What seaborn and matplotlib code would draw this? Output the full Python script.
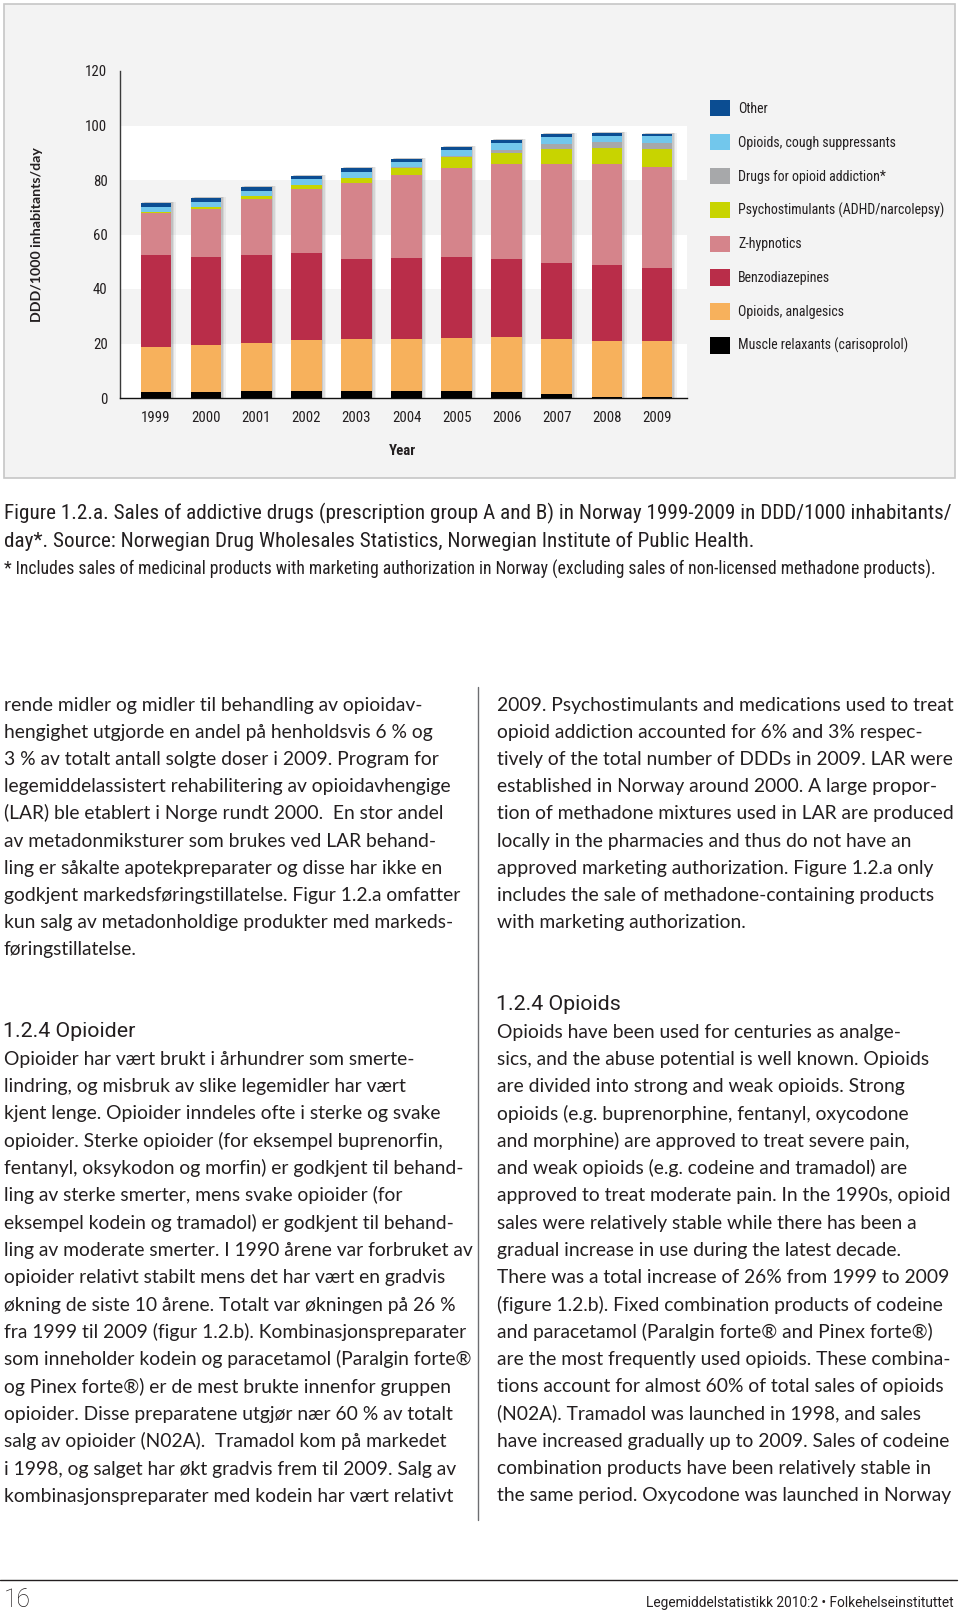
import numpy as np
import matplotlib
matplotlib.use('Agg')
import matplotlib.pyplot as plt
import matplotlib.font_manager as fm
import seaborn as sns
from matplotlib.patches import Patch, Rectangle
from matplotlib.lines import Line2D

# ---- chart data (DDD/1000 inhabitants/day) ----
years = ['1999', '2000', '2001', '2002', '2003', '2004', '2005', '2006', '2007', '2008', '2009']
muscle_relaxants = [2.2, 2.3, 2.5, 2.5, 2.5, 2.4, 2.4, 2.2, 1.6, 0.5, 0.2]
opioids_analgesics = [16.6, 17.0, 17.6, 18.9, 19.2, 19.3, 19.7, 20.1, 20.1, 20.6, 20.7]
benzodiazepines = [33.7, 32.4, 32.2, 31.9, 29.3, 29.5, 29.7, 28.7, 28.0, 27.7, 26.8]
z_hypnotics = [15.4, 17.7, 20.9, 23.5, 27.9, 30.6, 32.7, 34.7, 36.2, 36.9, 37.0]
psychostimulants = [0.3, 0.6, 1.0, 1.2, 1.9, 2.7, 3.9, 4.3, 5.4, 5.9, 6.5]
opioid_addiction = [0.0, 0.2, 0.1, 0.1, 0.1, 0.1, 0.3, 1.1, 2.0, 2.4, 2.4]
opioids_cough = [1.8, 1.8, 1.8, 2.1, 2.2, 1.9, 2.2, 2.3, 2.3, 2.1, 2.4]
other = [1.5, 1.4, 1.4, 1.3, 1.3, 1.3, 1.2, 1.2, 1.2, 1.1, 1.0]

layer_names = ['Muscle relaxants (carisoprolol)', 'Opioids, analgesics', 'Benzodiazepines',
               'Z-hypnotics', 'Psychostimulants (ADHD/narcolepsy)', 'Drugs for opioid addiction*',
               'Opioids, cough suppressants', 'Other']
layer_colors = ['#000000', '#f7b15c', '#b92d49', '#d5848b', '#c8d400', '#a7a8aa', '#72c7ec', '#0b4d92']
y_ticks = [0, 20, 40, 60, 80, 100, 120]

# ---- page text ----
caption_lines = [
    'Figure 1.2.a. Sales of addictive drugs (prescription group A and B) in Norway 1999-2009 in DDD/1000 inhabitants/',
    'day*. Source: Norwegian Drug Wholesales Statistics, Norwegian Institute of Public Health.',
]
footnote = ('* Includes sales of medicinal products with marketing authorization in Norway '
            '(excluding sales of non-licensed methadone products).')

left_para = [
    'rende midler og midler til behandling av opioidav-',
    'hengighet utgjorde en andel på henholdsvis 6 % og',
    '3 % av totalt antall solgte doser i 2009. Program for',
    'legemiddelassistert rehabilitering av opioidavhengige',
    '(LAR) ble etablert i Norge rundt 2000.  En stor andel',
    'av metadonmiksturer som brukes ved LAR behand-',
    'ling er såkalte apotekpreparater og disse har ikke en',
    'godkjent markedsføringstillatelse. Figur 1.2.a omfatter',
    'kun salg av metadonholdige produkter med markeds-',
    'føringstillatelse.',
]
left_heading = '1.2.4 Opioider'
left_body = [
    'Opioider har vært brukt i århundrer som smerte-',
    'lindring, og misbruk av slike legemidler har vært',
    'kjent lenge. Opioider inndeles ofte i sterke og svake',
    'opioider. Sterke opioider (for eksempel buprenorfin,',
    'fentanyl, oksykodon og morfin) er godkjent til behand-',
    'ling av sterke smerter, mens svake opioider (for',
    'eksempel kodein og tramadol) er godkjent til behand-',
    'ling av moderate smerter. I 1990 årene var forbruket av',
    'opioider relativt stabilt mens det har vært en gradvis',
    'økning de siste 10 årene. Totalt var økningen på 26 %',
    'fra 1999 til 2009 (figur 1.2.b). Kombinasjonspreparater',
    'som inneholder kodein og paracetamol (Paralgin forte®',
    'og Pinex forte®) er de mest brukte innenfor gruppen',
    'opioider. Disse preparatene utgjør nær 60 % av totalt',
    'salg av opioider (N02A).  Tramadol kom på markedet',
    'i 1998, og salget har økt gradvis frem til 2009. Salg av',
    'kombinasjonspreparater med kodein har vært relativt',
]
right_para = [
    '2009. Psychostimulants and medications used to treat',
    'opioid addiction accounted for 6% and 3% respec-',
    'tively of the total number of DDDs in 2009. LAR were',
    'established in Norway around 2000. A large propor-',
    'tion of methadone mixtures used in LAR are produced',
    'locally in the pharmacies and thus do not have an',
    'approved marketing authorization. Figure 1.2.a only',
    'includes the sale of methadone-containing products',
    'with marketing authorization.',
]
right_heading = '1.2.4 Opioids'
right_body = [
    'Opioids have been used for centuries as analge-',
    'sics, and the abuse potential is well known. Opioids',
    'are divided into strong and weak opioids. Strong',
    'opioids (e.g. buprenorphine, fentanyl, oxycodone',
    'and morphine) are approved to treat severe pain,',
    'and weak opioids (e.g. codeine and tramadol) are',
    'approved to treat moderate pain. In the 1990s, opioid',
    'sales were relatively stable while there has been a',
    'gradual increase in use during the latest decade.',
    'There was a total increase of 26% from 1999 to 2009',
    '(figure 1.2.b). Fixed combination products of codeine',
    'and paracetamol (Paralgin forte® and Pinex forte®)',
    'are the most frequently used opioids. These combina-',
    'tions account for almost 60% of total sales of opioids',
    '(N02A). Tramadol was launched in 1998, and sales',
    'have increased gradually up to 2009. Sales of codeine',
    'combination products have been relatively stable in',
    'the same period. Oxycodone was launched in Norway',
]
page_number = '16'
footer_text = 'Legemiddelstatistikk 2010:2 • Folkehelseinstituttet'

# ---- setup ----
W, H = 960, 1613
sns.set_theme(style='white')

# a narrow face is closest to the condensed type of the original, if one is installed
installed = {f.name for f in fm.fontManager.ttflist}
narrow = [n for n in ['Liberation Sans Narrow', 'Roboto Condensed', 'Noto Sans Condensed',
                      'Open Sans Condensed', 'DejaVu Sans Condensed', 'Noto Sans SemiCondensed']
          if n in installed]
chart_font = narrow[:1] + ['Lato', 'DejaVu Sans']
body_font = ['Lato', 'DejaVu Sans']
head_font = ['Roboto', 'DejaVu Sans']
plt.rcParams['font.family'] = chart_font
ink = '#231f20'

fig = plt.figure(figsize=(9.6, 16.13), dpi=100)
fig.patch.set_facecolor('white')
renderer = fig.canvas.get_renderer()


def fx(x):
    return x / W


def fy(y):
    return 1 - y / H


def fit(text, target, family, weight='normal'):
    # font size (pt) that makes `text` span `target` pixels
    t = fig.text(0, 0, text, fontsize=10, family=family, fontweight=weight)
    w = t.get_window_extent(renderer).width
    t.remove()
    return 10 * target / w


def put(x, y, s, size, family, weight='normal', ha='left', color=ink):
    # y = visual centre of the line in px, baseline a quarter em lower
    base = y + 0.25 * size * 100 / 72
    fig.text(fx(x), fy(base), s, fontsize=size, family=family,
             fontweight=weight, ha=ha, va='baseline', color=color)


# grey box behind the chart
fig.patches.append(Rectangle((fx(4), fy(478)), 951 / W, 474 / H, transform=fig.transFigure,
                             facecolor='#f3f3f3', edgecolor='#c6c6c6', lw=1.2, zorder=-1))

leg_fs = fit('Psychostimulants (ADHD/narcolepsy)', 206, chart_font)
tick_fs = fit('2009', 29, chart_font)

ax = fig.add_axes([fx(120), fy(398), (687 - 120) / W, (398 - 71) / H])
ax.set_facecolor('none')
for lo in (0, 40, 80):
    ax.axhspan(lo, lo + 20, color='white', lw=0, zorder=0)

layers = [muscle_relaxants, opioids_analgesics, benzodiazepines, z_hypnotics,
          psychostimulants, opioid_addiction, opioids_cough, other]
tops = np.cumsum(np.array(layers), axis=0)

# stacked bars: draw cumulative totals from the top layer down
for i in reversed(range(len(layers))):
    sns.barplot(x=years, y=tops[i], color=layer_colors[i], saturation=1, width=0.61,
                errorbar=None, linewidth=0, ax=ax, zorder=3)

# soft drop shadow on the right of each bar
pos = np.arange(len(years))
for off, a in [(0.03, 0.22), (0.06, 0.16), (0.09, 0.10)]:
    ax.bar(pos + off, tops[-1] + 0.4, width=0.61, color='#7a7a7a', alpha=a, lw=0, zorder=2)

ax.set_xlim(-0.72, 10.6)
ax.set_ylim(0, 120)
ax.set_yticks(y_ticks)
ax.tick_params(axis='both', length=0, labelsize=tick_fs, pad=9, colors=ink)
sns.despine(ax=ax)
ax.spines['left'].set_color('#3a3a3a')
ax.spines['bottom'].set_color('#111111')
ax.spines['left'].set_linewidth(1)
ax.spines['bottom'].set_linewidth(1)

ylab_fs = fit('DDD/1000 inhabitants/day', 174, body_font, 'bold')
ax.set_ylabel('DDD/1000 inhabitants/day', fontsize=ylab_fs, fontweight='bold',
              family=body_font, color=ink, va='center')
ax.yaxis.set_label_coords((37 - 120) / 567, (398 - 235) / 327)
year_fs = fit('Year', 27, chart_font, 'bold')
ax.set_xlabel('Year', fontsize=year_fs, fontweight='bold', color=ink, va='center')
ax.xaxis.set_label_coords((402 - 120) / 567, (398 - 451) / 327)

# legend: 20 px squares, one row every ~34 px
sq = 14.4 / leg_fs
handles = [Patch(facecolor=c, edgecolor='none') for c in reversed(layer_colors)]
fig.legend(handles, list(reversed(layer_names)), loc='upper left',
           bbox_to_anchor=(fx(710), fy(100)), frameon=False, fontsize=leg_fs,
           handlelength=sq, handleheight=sq, handletextpad=0.6,
           labelspacing=12.6 / leg_fs, borderpad=0, borderaxespad=0, labelcolor=ink)

# ---- caption ----
cap_fs = fit(caption_lines[0], 944, chart_font)
for i, line in enumerate(caption_lines):
    put(4, 514.5 + i * 27.7, line, cap_fs, chart_font)
foot_fs = fit(footnote, 925, chart_font)
put(4, 570, footnote, foot_fs, chart_font)

# ---- two text columns ----
body_fs = (fit(left_para[3], 451, body_font) + fit(right_para[0], 452, body_font)) / 2
head_fs = fit(left_heading, 132, head_font)

for i, line in enumerate(left_para):
    put(4, 705.8 + i * 27.2, line, body_fs, body_font)
put(3, 1032, left_heading, head_fs, head_font)
for i, line in enumerate(left_body):
    put(4, 1059.8 + i * 27.33, line, body_fs, body_font)

for i, line in enumerate(right_para):
    put(497, 705.8 + i * 27.2, line, body_fs, body_font)
put(496, 1005, right_heading, head_fs, head_font)
for i, line in enumerate(right_body):
    put(497, 1033 + i * 27.27, line, body_fs, body_font)

fig.add_artist(Line2D([fx(478), fx(478)], [fy(687), fy(1520)], transform=fig.transFigure,
                      color='#6d6e71', lw=1))

# ---- footer ----
fig.add_artist(Line2D([0, fx(957)], [fy(1580), fy(1580)], transform=fig.transFigure,
                      color=ink, lw=1))
num_fs = fit(page_number, 27, head_font, 'light')
put(4, 1601, page_number, num_fs, head_font, weight='light')
foot_txt_fs = fit(footer_text, 308, head_font)
put(954, 1604, footer_text, foot_txt_fs, head_font, ha='right')

fig.savefig('out.png', dpi=100)
